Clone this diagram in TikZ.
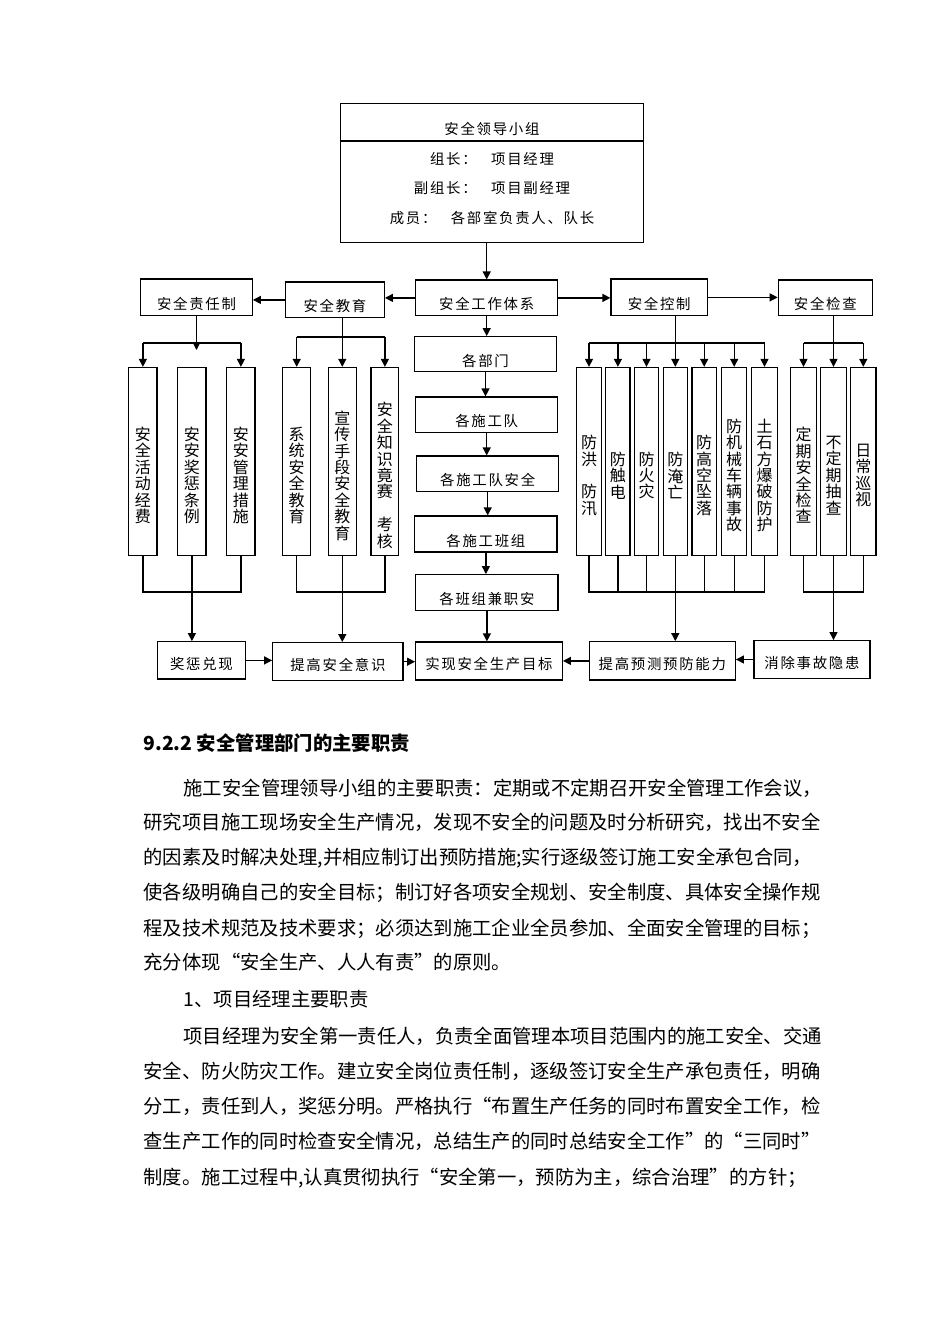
\documentclass[tikz,border=0pt]{standalone}
\usepackage{fontspec}
\setmainfont{Noto Sans CJK SC}
\newfontfamily\boxfont[LetterSpace=12]{Noto Sans CJK SC}
\usetikzlibrary{arrows.meta}

\tikzset{
  arr/.style={-{Triangle[length=5pt,width=5pt]}},
  bx/.style 2 args={draw, line width=0.8pt, inner sep=0pt,
    minimum width=#1*0.625pt, minimum height=#2*0.625pt,
    font=\boxfont\fontsize{9}{10}\selectfont, text height=16pt, text depth=1pt},
  col/.style 2 args={draw, line width=0.8pt, inner sep=0pt,
    minimum width=#1*0.625pt, minimum height=#2*0.625pt},
  coltxt/.style={align=center, inner sep=0pt, yshift=-8.75pt,
    font=\fontsize{10}{10.25}\selectfont},
  ltxt/.style={inner sep=0pt, font=\boxfont\fontsize{9}{10}\selectfont},
  bodyline/.style={anchor=base west, inner sep=0pt, font=\fontsize{12.09}{14}\selectfont},
}

\begin{document}
\begin{tikzpicture}[x=0.625pt, y=-0.625pt, line width=0.8pt]
  %%%%% PAGE %%%%%
  \fill[white] (0,0) rectangle (950,1344);
  \useasboundingbox (0,0) rectangle (950,1344);

  %%%%% LEADING GROUP %%%%%
  \node[col={302.6}{139}] (lead) at (492,172.8) {};
  \coordinate (ldiv) at (0,141);
  \draw (lead.west |- ldiv) -- (lead.east |- ldiv);
  \node[ltxt] (l1) at (492,129) {安全领导小组};
  \node[ltxt] (l2) at (492,159) {组长：\quad 项目经理};
  \node[ltxt] (l3) at (492,188) {副组长：\quad 项目副经理};
  \node[ltxt] (l4) at (492,218) {成员：\quad 各部室负责人、队长};

  %%%%% SECOND ROW %%%%%
  \node[bx={111.6}{36.7}] (resp) at (196.5,297.4) {安全责任制};
  \node[bx={98.6}{35.7}]  (edu)  at (335,299.9)   {安全教育};
  \node[bx={142}{35.7}]   (sys)  at (486.7,297.9) {安全工作体系};
  \node[bx={96.3}{36.7}]  (ctrl) at (659.2,297.4) {安全控制};
  \node[bx={94}{35.7}]    (chk)  at (825.3,297.9) {安全检查};

  %%%%% CENTRE CHAIN %%%%%
  \node[bx={141.6}{35}]   (dep1) at (485.5,354.2) {各部门};
  \node[bx={142}{35.3}]   (dep2) at (486.7,414.7) {各施工队};
  \node[bx={142}{35.7}]   (dep3) at (487.7,473.9) {各施工队安全};
  \node[bx={142.3}{36}]   (dep4) at (485.9,534)   {各施工班组};
  \node[bx={142.3}{36}]   (dep5) at (486.9,592.7) {各班组兼职安};

  %%%%% BOTTOM ROW %%%%%
  \node[bx={87.6}{37.3}, text height=12pt]  (prize) at (201.5,660.4) {奖惩兑现};
  \node[bx={130.3}{38}, text height=12pt]   (aware) at (337.9,661.7) {提高安全意识};
  \node[bx={146.6}{38}, text height=12pt]   (goal)  at (489,661)     {实现安全生产目标};
  \node[bx={146}{38.3}, text height=12pt]   (pred)  at (662.3,660.9) {提高预测预防能力};
  \node[bx={116}{37.6}, text height=12pt]   (elim)  at (812,659.5)   {消除事故隐患};

  %%%%% COLUMNS %%%%%
  \foreach \n/\cx/\w in {zl1/142.9/28.3, zl2/191.9/28.3, zl3/240.9/28.3,
      zl4/296.7/28, zl5/342.3/28, zl6/384.9/27.7,
      zr1/589/24.6, zr2/617.9/24.3, zr3/646.5/24.4, zr4/675.3/24,
      zr5/704.2/24.3, zr6/734.2/25, zr7/764.5/25.6,
      zc1/803.5/25.6, zc2/833.5/25.6, zc3/863.3/25.3}
    \node[col={\w}{188}] (\n) at (\cx,461.5) {};

  \node[coltxt] (zl1t) at (zl1) {安\\全\\活\\动\\经\\费};
  \node[coltxt] (zl2t) at (zl2) {安\\安\\奖\\惩\\条\\例};
  \node[coltxt] (zl3t) at (zl3) {安\\安\\管\\理\\措\\施};
  \node[coltxt] (zl4t) at (zl4) {系\\统\\安\\全\\教\\育};
  \node[coltxt] (zl5t) at (zl5) {宣\\传\\手\\段\\安\\全\\教\\育};
  \node[coltxt] (zl6t) at (zl6) {安\\全\\知\\识\\竟\\赛\\\mbox{}\\考\\核};
  \node[coltxt] (zr1t) at (zr1) {防\\洪\\\mbox{}\\防\\汛};
  \node[coltxt] (zr2t) at (zr2) {防\\触\\电};
  \node[coltxt] (zr3t) at (zr3) {防\\火\\灾};
  \node[coltxt] (zr4t) at (zr4) {防\\淹\\亡};
  \node[coltxt] (zr5t) at (zr5) {防\\高\\空\\坠\\落};
  \node[coltxt] (zr6t) at (zr6) {防\\机\\械\\车\\辆\\事\\故};
  \node[coltxt] (zr7t) at (zr7) {土\\石\\方\\爆\\破\\防\\护};
  \node[coltxt] (zc1t) at (zc1) {定\\期\\安\\全\\检\\查};
  \node[coltxt] (zc2t) at (zc2) {不\\定\\期\\抽\\查};
  \node[coltxt] (zc3t) at (zc3) {日\\常\\巡\\视};

  %%%%% ARROWS, TOP %%%%%
  \draw[arr] (lead.south -| sys.north) -- (sys.north);
  \draw[arr] (sys.west) -- (sys.west -| edu.east);
  \draw[arr] (edu.west) -- (edu.west -| resp.east);
  \draw[arr] (sys.east) -- (sys.east -| ctrl.west);
  \draw[arr] (ctrl.east) -- (ctrl.east -| chk.west);

  \foreach \a/\b in {sys/dep1, dep1/dep2, dep2/dep3, dep3/dep4, dep4/dep5, dep5/goal}
    \draw[arr] (\a.south) -- (\a.south |- \b.north);

  % spreading buses
  \coordinate (rbus) at (0,343);
  \coordinate (rtip) at (0,350);
  \coordinate (ebus) at (0,337);
  \draw[arr] (resp.south) -- (resp.south |- rtip);
  \draw (zl1.north |- rbus) -- (zl3.north |- rbus);
  \foreach \c in {zl1,zl3}
    \draw[arr] (\c.north |- rbus) -- (\c.north);

  \draw[arr] (zl5.north |- edu.south) -- (zl5.north);
  \draw (zl4.north |- ebus) -- (zl6.north |- ebus);
  \foreach \c in {zl4,zl6}
    \draw[arr] (\c.north |- ebus) -- (\c.north);

  \draw[arr] (zr4.north |- ctrl.south) -- (zr4.north);
  \draw (zr1.north |- rbus) -- (zr7.north |- rbus);
  \foreach \c in {zr1,zr2,zr3,zr5,zr6,zr7}
    \draw[arr] (\c.north |- rbus) -- (\c.north);

  \draw[arr] (zc2.north |- chk.south) -- (zc2.north);
  \draw (zc1.north |- rbus) -- (zc3.north |- rbus);
  \foreach \c in {zc1,zc3}
    \draw[arr] (\c.north |- rbus) -- (\c.north);

  %%%%% ARROWS, BOTTOM %%%%%
  \coordinate (mbus) at (0,592);
  \draw (zl1.south) -- (zl1.south |- mbus) -- (zl3.south |- mbus) -- (zl3.south);
  \draw[arr] (zl2.south) -- (zl2.south |- prize.north);
  \draw (zl4.south) -- (zl4.south |- mbus) -- (zl6.south |- mbus) -- (zl6.south);
  \draw[arr] (zl5.south) -- (zl5.south |- aware.north);
  \draw (zr1.south) -- (zr1.south |- mbus) -- (zr7.south |- mbus) -- (zr7.south);
  \foreach \c in {zr2,zr3,zr5,zr6}
    \draw (\c.south) -- (\c.south |- mbus);
  \draw[arr] (zr4.south) -- (zr4.south |- pred.north);
  \draw (zc1.south) -- (zc1.south |- mbus) -- (zc3.south |- mbus) -- (zc3.south);
  \draw[arr] (zc2.south) -- (zc2.south |- elim.north);

  \draw[arr] (prize.east) -- (prize.east -| aware.west);
  \draw[arr] (aware.east) -- (aware.east -| goal.west);
  \draw[arr] (pred.west) -- (pred.west -| goal.east);
  \draw[arr] (elim.west) -- (elim.west -| pred.east);

  %%%%% TEXT %%%%%
  \node[bodyline, font=\bfseries\fontsize{12.09}{14}\selectfont] (hd) at (143,750) {9.2.2\ 安全管理部门的主要职责};
  \foreach \lx/\ly/\ltxt [count=\i] in {
      183/795/{施工安全管理领导小组的主要职责：定期或不定期召开安全管理工作会议，},
      143/829/{研究项目施工现场安全生产情况，发现不安全的问题及时分析研究，找出不安全},
      143/864/{的因素及时解决处理,并相应制订出预防措施;实行逐级签订施工安全承包合同，},
      143/899/{使各级明确自己的安全目标；制订好各项安全规划、安全制度、具体安全操作规},
      143/935/{程及技术规范及技术要求；必须达到施工企业全员参加、全面安全管理的目标；},
      143/969/{充分体现“安全生产、人人有责”的原则。},
      183/1006/{1、项目经理主要职责},
      183/1043/{项目经理为安全第一责任人，负责全面管理本项目范围内的施工安全、交通},
      143/1078/{安全、防火防灾工作。建立安全岗位责任制，逐级签订安全生产承包责任，明确},
      143/1113/{分工，责任到人，奖惩分明。严格执行“布置生产任务的同时布置安全工作，检},
      143/1148/{查生产工作的同时检查安全情况，总结生产的同时总结安全工作”的“三同时”},
      143/1184/{制度。施工过程中,认真贯彻执行“安全第一，预防为主，综合治理”的方针；}}
    \node[bodyline] (t\i) at (\lx,\ly) {\ltxt};
\end{tikzpicture}
\end{document}
